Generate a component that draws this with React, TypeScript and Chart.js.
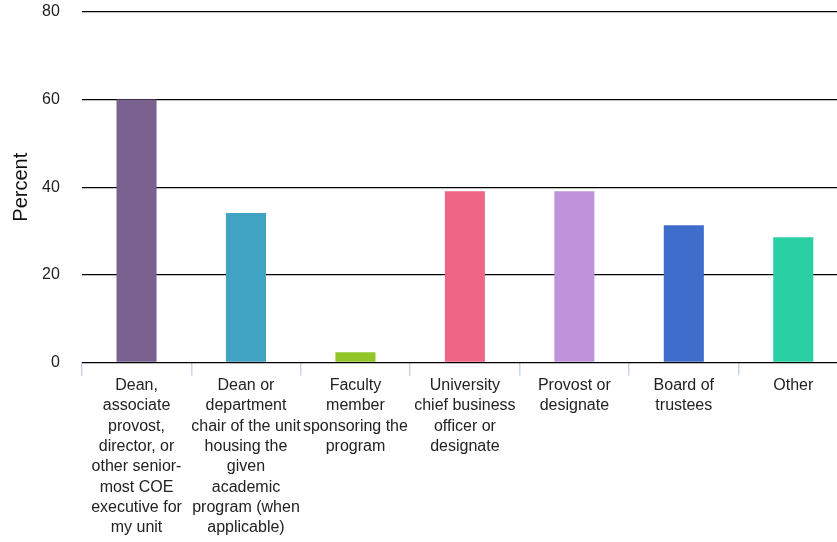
import React, { useEffect, useRef } from "react";
import { Chart, registerables } from "chart.js";

Chart.register(...registerables);

const categories: string[][] = [
  ["Dean,", "associate", "provost,", "director, or", "other senior-", "most COE", "executive for", "my unit"],
  ["Dean or", "department", "chair of the unit", "housing the", "given", "academic", "program (when", "applicable)"],
  ["Faculty", "member", "sponsoring the", "program"],
  ["University", "chief business", "officer or", "designate"],
  ["Provost or", "designate"],
  ["Board of", "trustees"],
  ["Other"],
];

const values: number[] = [60.0, 34.1, 2.3, 39.1, 39.1, 31.3, 28.6];

const barColors: string[] = ["#7b6190", "#41a3c3", "#92c52a", "#ef6586", "#bf92da", "#3e6dcb", "#2bcfa4"];

const yTicks: number[] = [0, 20, 40, 60, 80];

const FONT = "'Liberation Sans', Arial, Helvetica, sans-serif";

export default function App() {
  const ref = useRef<HTMLCanvasElement | null>(null);
  useEffect(() => {
    if (!ref.current) return;
    const chart = new Chart(ref.current, {
      type: "bar",
      data: {
        labels: categories,
        datasets: [
          {
            data: values,
            backgroundColor: barColors,
            borderWidth: 0,
            categoryPercentage: 1,
            barPercentage: 0.366,
          },
        ],
      },
      options: {
        responsive: false,
        animation: false,
        layout: { padding: { top: 12, right: 0, left: 9, bottom: 4 } },
        plugins: { legend: { display: false }, tooltip: { enabled: false } },
        scales: {
          x: {
            offset: true,
            afterFit: (axis: any) => {
              axis.paddingLeft = 0;
              axis.paddingRight = 0;
            },
            grid: {
              offset: true,
              drawOnChartArea: false,
              drawTicks: true,
              tickLength: 13,
              color: "#c9d5ea",
              lineWidth: 1.5,
            },
            border: { display: false },
            ticks: {
              autoSkip: false,
              maxRotation: 0,
              minRotation: 0,
              padding: 0,
              color: "#222",
              font: { family: FONT, size: 16, lineHeight: 1.27 },
            },
          },
          y: {
            min: 0,
            max: 80,
            afterBuildTicks: (axis: any) => {
              axis.ticks = yTicks.map((v) => ({ value: v }));
            },
            afterFit: (axis: any) => {
              axis.paddingTop = 0;
              axis.paddingBottom = 0;
              axis.width = axis.width - 21;
            },
            grid: { color: "#000", lineWidth: 1.3, drawTicks: false },
            border: { display: false },
            ticks: {
              padding: 22,
              color: "#222",
              font: { family: FONT, size: 16 },
            },
            title: {
              display: true,
              text: "Percent",
              color: "#111",
              padding: { top: 0, bottom: 8 },
              font: { family: FONT, size: 20 },
            },
          },
        },
      },
    });
    return () => chart.destroy();
  }, []);
  return (
    <div style={{ position: "fixed", left: 0, top: 0, width: 837, height: 542, overflow: "hidden", background: "#fff" }}>
      <canvas ref={ref} width={848} height={542} style={{ display: "block" }} />
    </div>
  );
}
